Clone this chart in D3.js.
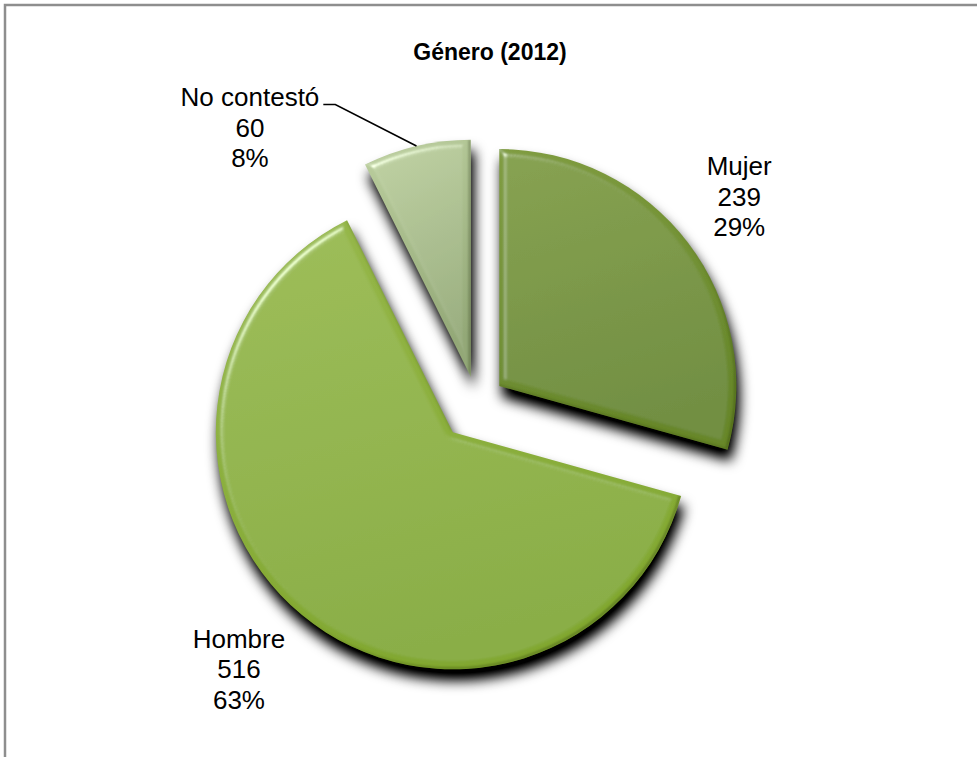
<!DOCTYPE html>
<html>
<head>
<meta charset="utf-8">
<script src="https://cdn.jsdelivr.net/npm/d3@7"></script>
<style>
  html, body { margin: 0; padding: 0; background: #ffffff; }
  svg { display: block; }
  text { font-family: "Liberation Sans", Arial, sans-serif; fill: #000; }
</style>
</head>
<body>
<script>
// Survey answers by gender
const categories = ["Mujer", "Hombre", "No contestó"];
const counts = [239, 516, 60];
const percentLabels = ["29%", "63%", "8%"];
const chartTitle = "Género (2012)";

const W = 977, H = 757;
const cx = 477, cy = 403, R = 237;

// how far each wedge is pulled out of the pie
const explode = { "Mujer": 28, "Hombre": 38, "No contestó": 27 };
// wedge colours: top and bottom of the gradient
const palette = {
  "Mujer":       ["#7f9c40", "#67872b"],
  "Hombre":      ["#97b84b", "#82a832"],
  "No contestó": ["#bccf9f", "#93a877"]
};
// label block placement (middle line baseline): angle in degrees clockwise
// from 12 o'clock and distance, both measured from the wedge tip
const labelSpot = {
  "Mujer":       { angle: 53.1, dist: 300 },
  "Hombre":      { angle: 221.0, dist: 326 },
  "No contestó": { angle: 317.35, dist: 326 }
};

const data = categories.map((c, i) => ({ name: c, count: counts[i], pct: percentLabels[i] }));

const svg = d3.select("body").append("svg")
  .attr("width", W).attr("height", H);

// chart frame (continues past the right and bottom edges)
svg.append("rect")
  .attr("x", 5).attr("y", 5)
  .attr("width", W + 40).attr("height", H + 40)
  .attr("fill", "#ffffff")
  .attr("stroke", "#8e8e8e")
  .attr("stroke-width", 2.5);

const defs = svg.append("defs");

// soft drop shadow
const sh = defs.append("filter").attr("id", "shadow")
  .attr("x", "-20%").attr("y", "-20%").attr("width", "140%").attr("height", "140%");
sh.append("feGaussianBlur").attr("in", "SourceAlpha").attr("stdDeviation", 6.5).attr("result", "b");
sh.append("feOffset").attr("in", "b").attr("dx", 3).attr("dy", 11).attr("result", "o");
sh.append("feComponentTransfer").attr("in", "o")
  .append("feFuncA").attr("type", "linear").attr("slope", 1.15);

// rounded bevel: light rim to the upper left, dark rim to the lower right
const bv = defs.append("filter").attr("id", "bevel")
  .attr("x", "-5%").attr("y", "-5%").attr("width", "110%").attr("height", "110%");
bv.append("feGaussianBlur").attr("in", "SourceAlpha").attr("stdDeviation", 3.5).attr("result", "blur");
const spec = bv.append("feSpecularLighting")
  .attr("in", "blur").attr("surfaceScale", 5)
  .attr("specularConstant", 0.9).attr("specularExponent", 30)
  .attr("lighting-color", "#ffffff").attr("result", "spec");
spec.append("feDistantLight").attr("azimuth", 225).attr("elevation", 42);
bv.append("feComposite").attr("in", "spec").attr("in2", "SourceAlpha")
  .attr("operator", "in").attr("result", "specIn");
bv.append("feOffset").attr("in", "SourceAlpha").attr("dx", -2.5).attr("dy", -2.5).attr("result", "shift");
bv.append("feComposite").attr("in", "SourceAlpha").attr("in2", "shift")
  .attr("operator", "out").attr("result", "rim");
bv.append("feGaussianBlur").attr("in", "rim").attr("stdDeviation", 1).attr("result", "rimB");
bv.append("feComposite").attr("in", "rimB").attr("in2", "SourceAlpha")
  .attr("operator", "in").attr("result", "rimIn");
bv.append("feFlood").attr("flood-color", "#2f4210").attr("flood-opacity", 0.55).attr("result", "dk");
bv.append("feComposite").attr("in", "dk").attr("in2", "rimIn")
  .attr("operator", "in").attr("result", "darkRim");
bv.append("feComposite").attr("in", "SourceGraphic").attr("in2", "specIn")
  .attr("operator", "arithmetic").attr("k1", 0).attr("k2", 1).attr("k3", 0.55).attr("k4", 0)
  .attr("result", "lit");
const mg = bv.append("feMerge");
mg.append("feMergeNode").attr("in", "lit");
mg.append("feMergeNode").attr("in", "darkRim");

// gradients, lighter at the top
data.forEach((d, i) => {
  const g = defs.append("linearGradient").attr("id", "grad" + i)
    .attr("x1", 0).attr("y1", 0).attr("x2", 0.25).attr("y2", 1);
  g.append("stop").attr("offset", "0%").attr("stop-color", palette[d.name][0]);
  g.append("stop").attr("offset", "100%").attr("stop-color", palette[d.name][1]);
});

// title
svg.append("text")
  .attr("x", 490).attr("y", 60)
  .attr("text-anchor", "middle")
  .attr("font-size", 23).attr("font-weight", "bold")
  .text(chartTitle);

const pie = d3.pie().sort(null).value(d => d.count);
const arcs = pie(data);
const arc = d3.arc().innerRadius(0).outerRadius(R);

const rad = deg => deg * Math.PI / 180;
const tip = a => {
  const mid = (a.startAngle + a.endAngle) / 2;
  const e = explode[a.data.name];
  return [cx + Math.sin(mid) * e, cy - Math.cos(mid) * e];
};

const root = svg.append("g");

// shadows first so they sit beneath every wedge
root.append("g").attr("filter", "url(#shadow)")
  .selectAll("path").data(arcs).join("path")
  .attr("transform", a => `translate(${tip(a)})`)
  .attr("d", arc)
  .attr("fill", "#000");

root.append("g")
  .selectAll("path").data(arcs).join("path")
  .attr("transform", a => `translate(${tip(a)})`)
  .attr("d", arc)
  .attr("fill", (a, i) => `url(#grad${i})`)
  .attr("filter", "url(#bevel)");

// data labels: name, count, percentage
const lineGap = 30.5;
const labelPos = a => {
  const [tx, ty] = tip(a);
  const s = labelSpot[a.data.name];
  return [tx + Math.sin(rad(s.angle)) * s.dist, ty - Math.cos(rad(s.angle)) * s.dist];
};
const labels = root.append("g").selectAll("g").data(arcs).join("g")
  .attr("transform", a => `translate(${labelPos(a)})`);

labels.each(function (a) {
  const t = d3.select(this).append("text")
    .attr("text-anchor", "middle")
    .attr("font-size", 26);
  [a.data.name, String(a.data.count), a.data.pct].forEach((s, k) => {
    t.append("tspan").attr("x", 0).attr("y", (k - 1) * lineGap).text(s);
  });
});

// leader line for the small wedge whose label sits away from it
arcs.filter(a => a.data.name === "No contestó").forEach(a => {
  const g = labels.filter(b => b === a);
  const bb = g.select("tspan").node().getBBox();
  const [lx, ly] = labelPos(a);
  const x0 = lx + bb.x + bb.width + 4;
  const y0 = ly - lineGap - 2;
  const mid = (a.startAngle + a.endAngle) / 2;
  const [tx, ty] = tip(a);
  const ex = tx + Math.sin(mid) * R, ey = ty - Math.cos(mid) * R;
  root.append("path")
    .attr("d", d3.line()([[x0, y0], [x0 + 12, y0], [ex, ey]]))
    .attr("fill", "none")
    .attr("stroke", "#000")
    .attr("stroke-width", 1.6);
});
</script>
</body>
</html>
